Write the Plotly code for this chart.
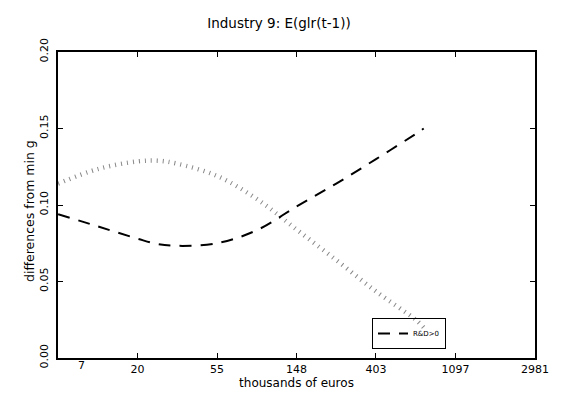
import math
import plotly.graph_objects as go

# data (x in thousands of euros, log-scale axis)
x_thousands = [7.4, 12.2, 20.1, 25.8, 33.1, 54.6, 90.0, 148.4, 244.7, 403.4, 665.1, 735.1]
rd_positive = [0.094, 0.086, 0.078, 0.0745, 0.0733, 0.075, 0.0835, 0.099, 0.114, 0.130, 0.1465, 0.150]
rd_zero = [0.114, 0.1235, 0.1285, 0.129, 0.127, 0.119, 0.104, 0.084, 0.064, 0.0435, 0.025, 0.020]

x_tick_vals = [20.09, 54.6, 148.4, 403.4, 1096.6, 2981.0]
x_tick_text = ["20", "55", "148", "403", "1097", "2981"]
first_tick_val = 7.4
first_tick_text = "7"
y_tick_vals = [0.0, 0.05, 0.10, 0.15, 0.20]
y_tick_text = ["0.00", "0.05", "0.10", "0.15", "0.20"]

FONT = "DejaVu Sans"

fig = go.Figure()
fig.add_trace(go.Scatter(
    x=x_thousands, y=rd_zero, mode="lines", showlegend=False,
    line=dict(color="#888888", width=4.5, dash="1px,5px", shape="spline"),
))
fig.add_trace(go.Scatter(
    x=x_thousands, y=rd_positive, mode="lines", name="R&D>0",
    line=dict(color="black", width=2, dash="12px,9px", shape="spline"),
))

fig.update_layout(
    width=570, height=394,
    margin=dict(l=50, r=43, t=44, b=44),
    paper_bgcolor="white", plot_bgcolor="white",
    font=dict(family=FONT, size=11, color="black"),
    title=dict(text="Industry 9: E(glr(t-1))", x=271 / 570, xanchor="center",
               y=1 - 15 / 394, yanchor="middle", font=dict(size=13.5)),
    showlegend=True,
    legend=dict(x=(364 - 50) / 477, y=(350 - 310) / 306, xanchor="left", yanchor="top",
                bgcolor="rgba(0,0,0,0)", bordercolor="black", borderwidth=1,
                font=dict(size=7), itemwidth=30, tracegroupgap=0),
)
fig.update_xaxes(
    type="log", range=[math.log10(math.e ** 2), math.log10(math.e ** 8)],
    tickvals=x_tick_vals, ticktext=x_tick_text,
    ticks="inside", ticklen=5, tickwidth=1, tickcolor="black",
    showline=True, linewidth=2, linecolor="black", mirror="ticks",
    showgrid=False, zeroline=False, tickfont=dict(size=11),
    title=dict(text="thousands of euros", font=dict(size=12), standoff=2),
)
fig.update_yaxes(
    range=[0, 0.2], tickvals=y_tick_vals, ticktext=y_tick_text, tickangle=-90,
    ticks="inside", ticklen=5, tickwidth=1, tickcolor="black",
    showline=True, linewidth=2, linecolor="black", mirror="ticks",
    showgrid=False, zeroline=False, tickfont=dict(size=11), ticklabelstandoff=4,
)
fig.add_annotation(
    x=-(50 - 22) / 477, y=(350 - 203) / 306, xref="paper", yref="paper",
    text="differences from min g", textangle=-90, showarrow=False,
    xanchor="center", yanchor="middle", font=dict(size=12.5, family=FONT),
)
fig.add_annotation(
    x=math.log10(first_tick_val), y=0, xref="x", yref="paper",
    text=first_tick_text, showarrow=False, xshift=23, yshift=-16,
    font=dict(size=11, family=FONT),
)
fig.write_html("out.html")
